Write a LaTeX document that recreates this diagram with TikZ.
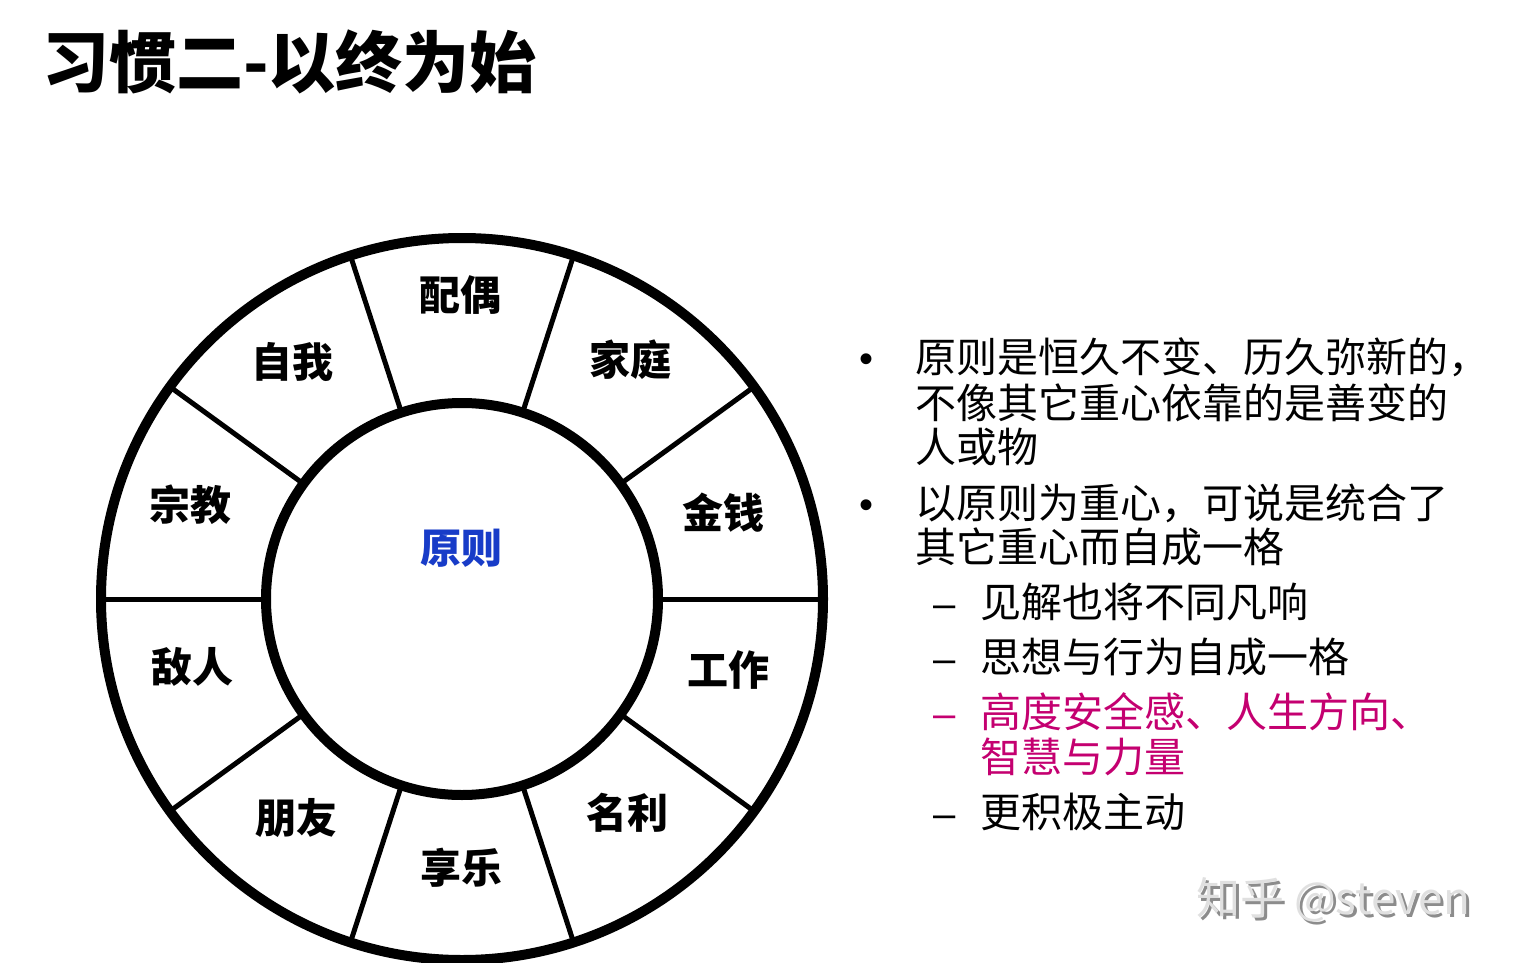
\documentclass[tikz,border=0pt]{standalone}
\usepackage{fontspec}
\newfontfamily\cjk{Noto Sans CJK SC}
\newfontfamily\latin{Liberation Sans}
\usepackage{tikz}
\usetikzlibrary{positioning,calc}

\definecolor{coreblue}{RGB}{24,60,200}
\definecolor{keymag}{RGB}{196,0,112}

\begin{document}
\begin{tikzpicture}[
          x=1pt, y=-1pt,
          ring/.style={draw=black, line width=10pt},
          spoke/.style={draw=black, line width=5pt},
          seclabel/.style={font=\cjk\bfseries\fontsize{41}{44}\selectfont, inner sep=0pt},
          bodytxt/.style={anchor=west, font=\cjk\fontsize{41}{44}\selectfont, inner sep=0pt},
          bulletmark/.style={anchor=base, font=\latin\fontsize{40}{44}\selectfont, inner sep=0pt}
        ]
        \useasboundingbox (0,0) rectangle (1523,963);
        % title
        \node[anchor=west, inner sep=0pt, font=\cjk\bfseries\fontsize{67}{70}\selectfont] (title) at (42,62) {习惯二-以终为始};

        % wheel
        \coordinate (c) at (462,599);
        \draw[ring] (c) circle[radius=361];
        \foreach \a in {0,36,...,324}
          \draw[spoke] ($(c)+(\a:194)$) -- ($(c)+(\a:358)$);
        \draw[ring, fill=white] (c) circle[radius=196];

        \foreach \x/\y/\t [count=\i] in {460/295/配偶, 630/360/家庭, 723/513/金钱, 728/670/工作, 627/813/名利,
                                        461/868/享乐, 296/818/朋友, 192/667/敌人, 190/505/宗教, 292/362/自我}
          \node[seclabel] (sec\i) at (\x,\y) {\t};
        \node[seclabel, text=coreblue] (core) at (461,548) {原则};

        % text on the right
        \node[bulletmark] (b1) at (866,372) {•};
        \node[bodytxt] (p1a) at (915,357) {原则是恒久不变、历久弥新的，};
        \node[bodytxt] (p1b) at (915,403) {不像其它重心依靠的是善变的};
        \node[bodytxt] (p1c) at (915,447) {人或物};
        \node[bulletmark] (b2) at (866,518) {•};
        \node[bodytxt] (p2a) at (915,503) {以原则为重心，可说是统合了};
        \node[bodytxt] (p2b) at (915,547) {其它重心而自成一格};

        \node[bulletmark] (d1) at (945,617) {–};
        \node[bodytxt] (q1) at (980,602) {见解也将不同凡响};
        \node[bulletmark] (d2) at (945,672) {–};
        \node[bodytxt] (q2) at (980,657) {思想与行为自成一格};
        \node[bulletmark, text=keymag] (d3) at (945,727) {–};
        \node[bodytxt, text=keymag] (q3a) at (980,712) {高度安全感、人生方向、};
        \node[bodytxt, text=keymag] (q3b) at (980,757) {智慧与力量};
        \node[bulletmark] (d4) at (945,827) {–};
        \node[bodytxt] (q4) at (980,812) {更积极主动};

        % watermark
        \node[anchor=west, inner sep=0pt, text=black!45, font=\cjk\fontsize{44}{48}\selectfont] (wmshadow) at (1199,903) {知乎 @steven};
        \node[anchor=west, inner sep=0pt, text=black!12, font=\cjk\fontsize{44}{48}\selectfont] (wm) at (1196,900) {知乎 @steven};
      \end{tikzpicture}
\end{document}
